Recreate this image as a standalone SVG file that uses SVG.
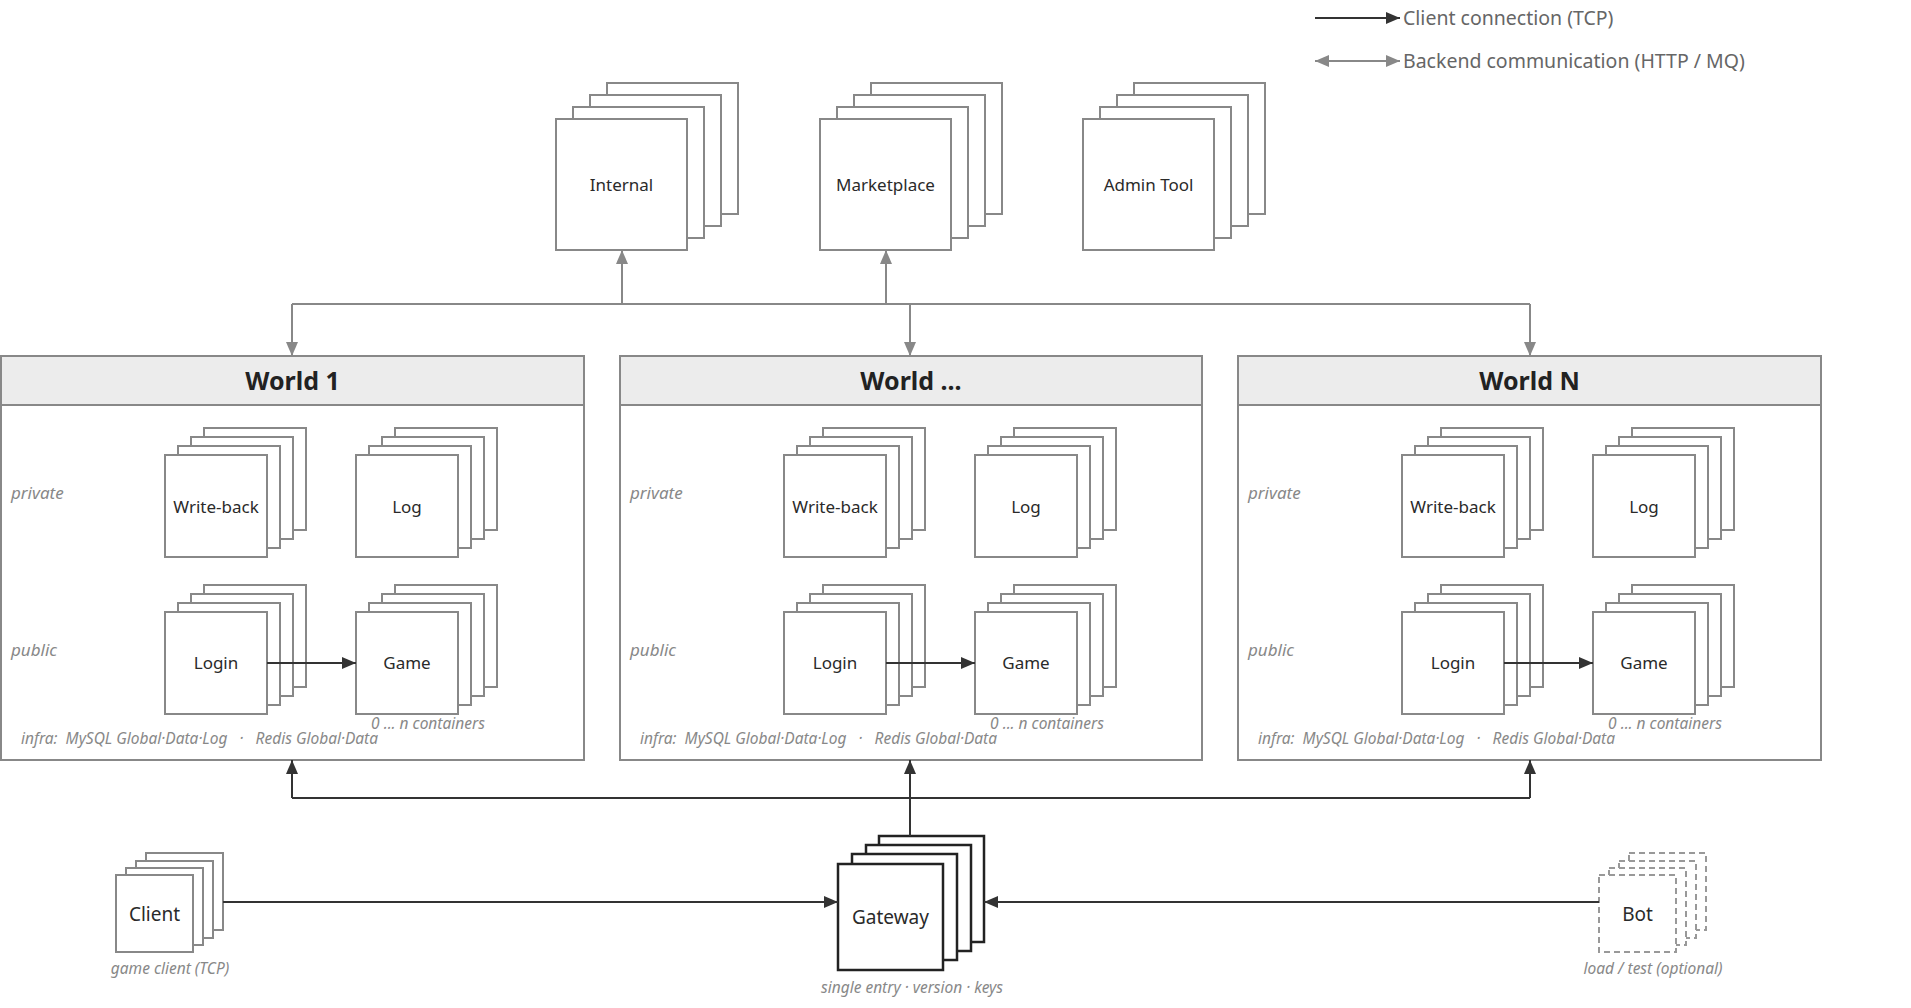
<svg xmlns="http://www.w3.org/2000/svg" width="1911" height="1008" viewBox="0 0 1911 1008">
<style>
.bg{fill:#ffffff}
.n{fill:#ffffff;stroke:#888888;stroke-width:2}
.gw{fill:#ffffff;stroke:#222222;stroke-width:2.5}
.bot{fill:#ffffff;stroke:#999999;stroke-width:2;stroke-dasharray:6 4}
.wbox{fill:#ffffff;stroke:#888888;stroke-width:2}
.whead{fill:#ececec;stroke:#888888;stroke-width:2}
.lbl{font-family:"Noto Sans","Liberation Sans",sans-serif;font-size:17px;fill:#2a2a2a;text-anchor:middle}
.big{font-size:19px}
.title{font-family:"Noto Sans","Liberation Sans",sans-serif;font-size:25px;font-weight:bold;fill:#222222;text-anchor:middle}
.it{font-family:"Noto Sans","Liberation Sans",sans-serif;font-size:15.5px;font-style:italic;fill:#888888}
.zone{font-size:17px}
.mid{text-anchor:middle}
.leg{font-family:"Noto Sans","Liberation Sans",sans-serif;font-size:19.5px;fill:#666666}
.cg{fill:none;stroke:#888888;stroke-width:2}
.cd{fill:none;stroke:#333333;stroke-width:2}
</style>
<defs>
<marker id="ag" markerUnits="userSpaceOnUse" markerWidth="14" markerHeight="12" viewBox="0 0 14 12" refX="14" refY="6" orient="auto-start-reverse"><path d="M0,0 L14,6 L0,12 Z" fill="#888888"/></marker>
<marker id="ad" markerUnits="userSpaceOnUse" markerWidth="14" markerHeight="12" viewBox="0 0 14 12" refX="14" refY="6" orient="auto-start-reverse"><path d="M0,0 L14,6 L0,12 Z" fill="#333333"/></marker>
</defs>
<rect class="bg" x="0" y="0" width="1911" height="1008"/>

<g id="legend">
<path class="cd" d="M1315,18 H1400" marker-end="url(#ad)"/>
<text class="leg" x="1403" y="25">Client connection (TCP)</text>
<path class="cg" d="M1315,61 H1400" marker-start="url(#ag)" marker-end="url(#ag)"/>
<text class="leg" x="1403" y="68">Backend communication (HTTP / MQ)</text>
</g>

<g id="internal">
<rect class="n" x="607" y="83" width="131" height="131"/>
<rect class="n" x="590" y="95" width="131" height="131"/>
<rect class="n" x="573" y="107" width="131" height="131"/>
<rect class="n" x="556" y="119" width="131" height="131"/>
<text class="lbl" x="621.5" y="191">Internal</text>
</g>
<g id="marketplace">
<rect class="n" x="871" y="83" width="131" height="131"/>
<rect class="n" x="854" y="95" width="131" height="131"/>
<rect class="n" x="837" y="107" width="131" height="131"/>
<rect class="n" x="820" y="119" width="131" height="131"/>
<text class="lbl" x="885.5" y="191">Marketplace</text>
</g>
<g id="admin-tool">
<rect class="n" x="1134" y="83" width="131" height="131"/>
<rect class="n" x="1117" y="95" width="131" height="131"/>
<rect class="n" x="1100" y="107" width="131" height="131"/>
<rect class="n" x="1083" y="119" width="131" height="131"/>
<text class="lbl" x="1148.5" y="191">Admin Tool</text>
</g>

<g id="world-1">
<rect class="wbox" x="1" y="356" width="583" height="404"/>
<rect class="whead" x="1" y="356" width="583" height="49"/>
<text class="title" x="292.5" y="390">World 1</text>
<text class="it zone" x="11" y="499">private</text>
<text class="it zone" x="11" y="656">public</text>
<g id="w1-writeback">
<rect class="n" x="204" y="428" width="102" height="102"/><rect class="n" x="191" y="437" width="102" height="102"/><rect class="n" x="178" y="446" width="102" height="102"/><rect class="n" x="165" y="455" width="102" height="102"/>
<text class="lbl" x="216" y="513">Write-back</text></g>
<g id="w1-log">
<rect class="n" x="395" y="428" width="102" height="102"/><rect class="n" x="382" y="437" width="102" height="102"/><rect class="n" x="369" y="446" width="102" height="102"/><rect class="n" x="356" y="455" width="102" height="102"/>
<text class="lbl" x="407" y="513">Log</text></g>
<g id="w1-login">
<rect class="n" x="204" y="585" width="102" height="102"/><rect class="n" x="191" y="594" width="102" height="102"/><rect class="n" x="178" y="603" width="102" height="102"/><rect class="n" x="165" y="612" width="102" height="102"/>
<text class="lbl" x="216" y="669">Login</text></g>
<g id="w1-game">
<rect class="n" x="395" y="585" width="102" height="102"/><rect class="n" x="382" y="594" width="102" height="102"/><rect class="n" x="369" y="603" width="102" height="102"/><rect class="n" x="356" y="612" width="102" height="102"/>
<text class="lbl" x="407" y="669">Game</text></g>
<text class="it mid" x="428" y="729">0 ... n containers</text>
<text class="it" x="21" y="744" xml:space="preserve">infra:  MySQL Global·Data·Log   ·   Redis Global·Data</text>
</g>

<g id="world-2">
<rect class="wbox" x="620" y="356" width="582" height="404"/>
<rect class="whead" x="620" y="356" width="582" height="49"/>
<text class="title" x="911" y="390">World ...</text>
<text class="it zone" x="630" y="499">private</text>
<text class="it zone" x="630" y="656">public</text>
<g id="w2-writeback">
<rect class="n" x="823" y="428" width="102" height="102"/><rect class="n" x="810" y="437" width="102" height="102"/><rect class="n" x="797" y="446" width="102" height="102"/><rect class="n" x="784" y="455" width="102" height="102"/>
<text class="lbl" x="835" y="513">Write-back</text></g>
<g id="w2-log">
<rect class="n" x="1014" y="428" width="102" height="102"/><rect class="n" x="1001" y="437" width="102" height="102"/><rect class="n" x="988" y="446" width="102" height="102"/><rect class="n" x="975" y="455" width="102" height="102"/>
<text class="lbl" x="1026" y="513">Log</text></g>
<g id="w2-login">
<rect class="n" x="823" y="585" width="102" height="102"/><rect class="n" x="810" y="594" width="102" height="102"/><rect class="n" x="797" y="603" width="102" height="102"/><rect class="n" x="784" y="612" width="102" height="102"/>
<text class="lbl" x="835" y="669">Login</text></g>
<g id="w2-game">
<rect class="n" x="1014" y="585" width="102" height="102"/><rect class="n" x="1001" y="594" width="102" height="102"/><rect class="n" x="988" y="603" width="102" height="102"/><rect class="n" x="975" y="612" width="102" height="102"/>
<text class="lbl" x="1026" y="669">Game</text></g>
<text class="it mid" x="1047" y="729">0 ... n containers</text>
<text class="it" x="640" y="744" xml:space="preserve">infra:  MySQL Global·Data·Log   ·   Redis Global·Data</text>
</g>

<g id="world-n">
<rect class="wbox" x="1238" y="356" width="583" height="404"/>
<rect class="whead" x="1238" y="356" width="583" height="49"/>
<text class="title" x="1529.5" y="390">World N</text>
<text class="it zone" x="1248" y="499">private</text>
<text class="it zone" x="1248" y="656">public</text>
<g id="wn-writeback">
<rect class="n" x="1441" y="428" width="102" height="102"/><rect class="n" x="1428" y="437" width="102" height="102"/><rect class="n" x="1415" y="446" width="102" height="102"/><rect class="n" x="1402" y="455" width="102" height="102"/>
<text class="lbl" x="1453" y="513">Write-back</text></g>
<g id="wn-log">
<rect class="n" x="1632" y="428" width="102" height="102"/><rect class="n" x="1619" y="437" width="102" height="102"/><rect class="n" x="1606" y="446" width="102" height="102"/><rect class="n" x="1593" y="455" width="102" height="102"/>
<text class="lbl" x="1644" y="513">Log</text></g>
<g id="wn-login">
<rect class="n" x="1441" y="585" width="102" height="102"/><rect class="n" x="1428" y="594" width="102" height="102"/><rect class="n" x="1415" y="603" width="102" height="102"/><rect class="n" x="1402" y="612" width="102" height="102"/>
<text class="lbl" x="1453" y="669">Login</text></g>
<g id="wn-game">
<rect class="n" x="1632" y="585" width="102" height="102"/><rect class="n" x="1619" y="594" width="102" height="102"/><rect class="n" x="1606" y="603" width="102" height="102"/><rect class="n" x="1593" y="612" width="102" height="102"/>
<text class="lbl" x="1644" y="669">Game</text></g>
<text class="it mid" x="1665" y="729">0 ... n containers</text>
<text class="it" x="1258" y="744" xml:space="preserve">infra:  MySQL Global·Data·Log   ·   Redis Global·Data</text>
</g>

<g id="client">
<rect class="n" x="146" y="853" width="77" height="77"/>
<rect class="n" x="136" y="861" width="77" height="77"/>
<rect class="n" x="126" y="868" width="77" height="77"/>
<rect class="n" x="116" y="875" width="77" height="77"/>
<text class="lbl big" x="154.5" y="921">Client</text>
<text class="it mid" x="170" y="974">game client (TCP)</text>
</g>

<g id="gateway">
<rect class="gw" x="879" y="836" width="105" height="106"/>
<rect class="gw" x="866" y="845" width="105" height="106"/>
<rect class="gw" x="852" y="854" width="105" height="106"/>
<rect class="gw" x="838" y="864" width="105" height="106"/>
<text class="lbl big" x="890.5" y="924">Gateway</text>
<text class="it mid" x="912" y="993">single entry · version · keys</text>
</g>

<g id="bot">
<rect class="bot" x="1629" y="853" width="77" height="77"/>
<rect class="bot" x="1619" y="861" width="77" height="77"/>
<rect class="bot" x="1609" y="868" width="77" height="77"/>
<rect class="bot" x="1599" y="875" width="77" height="77"/>
<text class="lbl big" x="1637.5" y="921">Bot</text>
<text class="it mid" x="1653" y="974">load / test (optional)</text>
</g>

<g id="connectors">
<path class="cg" d="M292,304 H1530"/>
<path class="cg" d="M292,304 V356" marker-end="url(#ag)"/>
<path class="cg" d="M910,304 V356" marker-end="url(#ag)"/>
<path class="cg" d="M1530,304 V356" marker-end="url(#ag)"/>
<path class="cg" d="M622,304 V250" marker-end="url(#ag)"/>
<path class="cg" d="M886,304 V250" marker-end="url(#ag)"/>
<path class="cd" d="M267,663 H356" marker-end="url(#ad)"/>
<path class="cd" d="M886,663 H975" marker-end="url(#ad)"/>
<path class="cd" d="M1504,663 H1593" marker-end="url(#ad)"/>
<path class="cd" d="M292,798 H1530"/>
<path class="cd" d="M292,798 V760" marker-end="url(#ad)"/>
<path class="cd" d="M1530,798 V760" marker-end="url(#ad)"/>
<path class="cd" d="M910,836 V760" marker-end="url(#ad)"/>
<path class="cd" d="M223,902 H838" marker-end="url(#ad)"/>
<path class="cd" d="M1599,902 H984" marker-end="url(#ad)"/>
</g>
</svg>
